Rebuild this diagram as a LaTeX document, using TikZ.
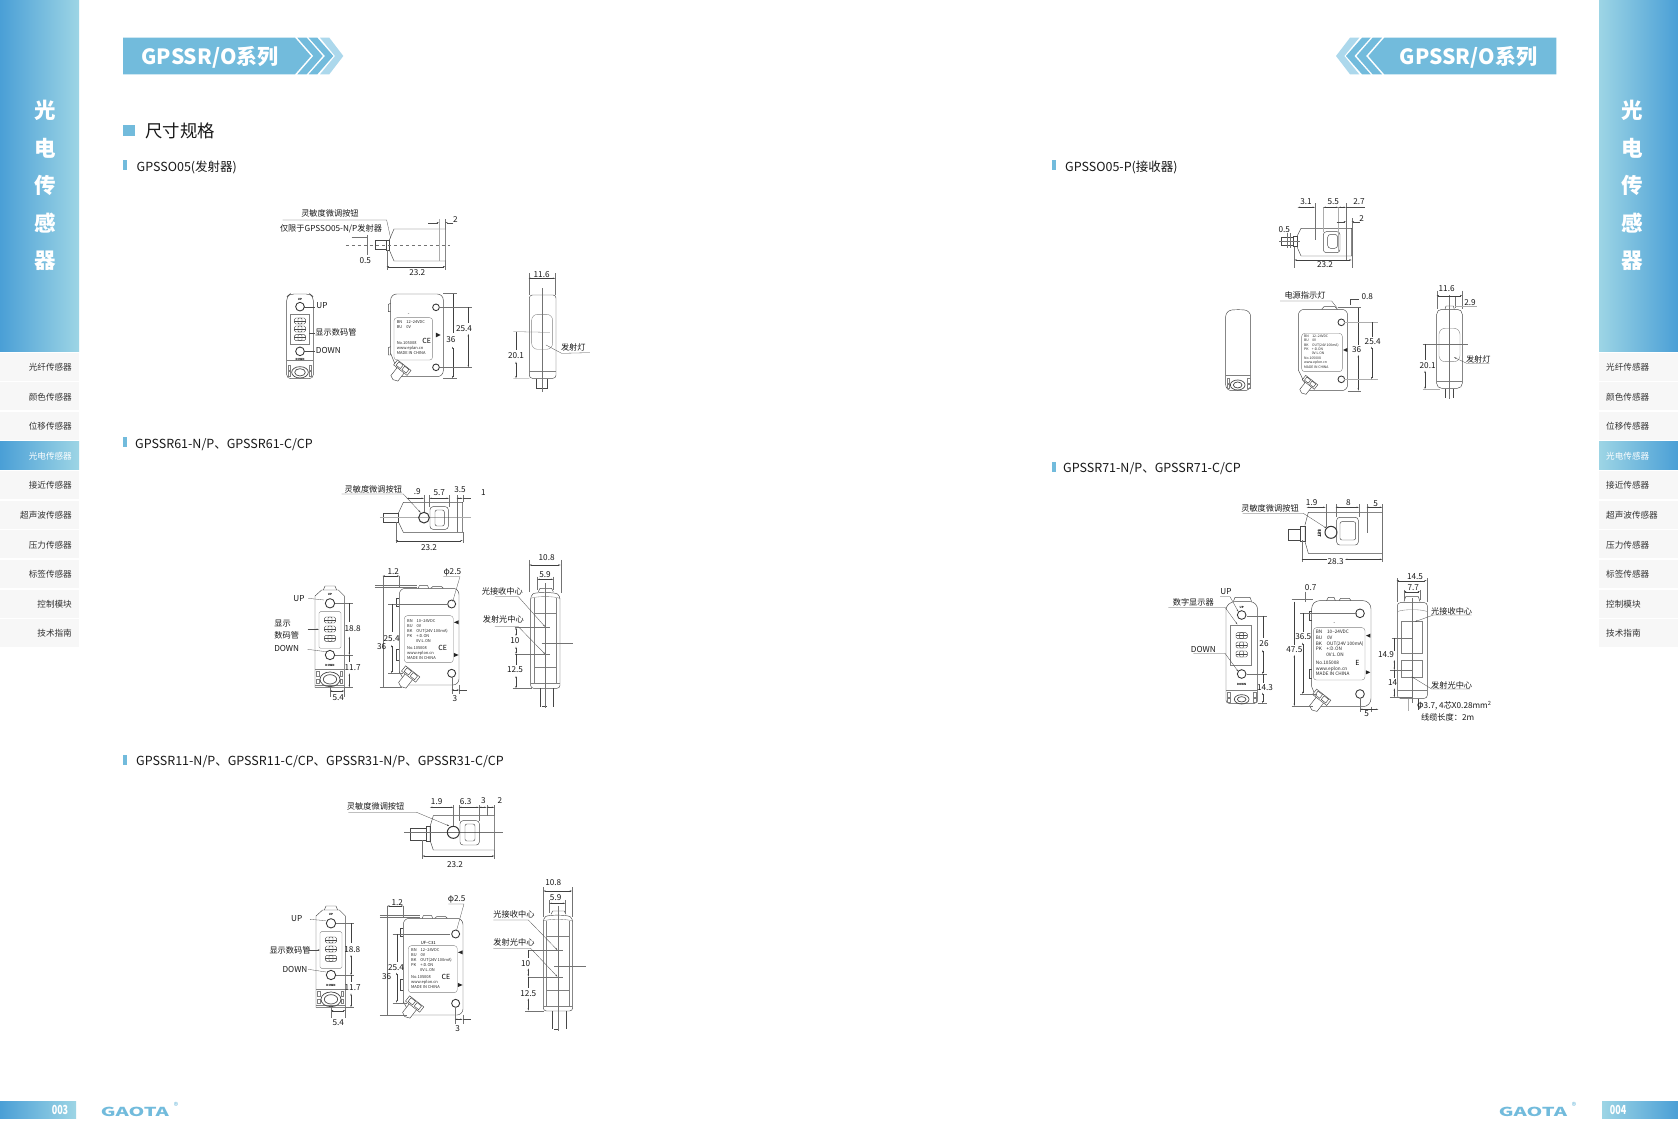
\documentclass[tikz,border=0pt]{standalone}
\usepackage{graphicx}
\usepackage{fontspec}
\setmainfont{Noto Sans CJK SC}
\usetikzlibrary{arrows.meta}
\definecolor{barDeep}{HTML}{4A9FD6}
\definecolor{barPale}{HTML}{9DD5E5}
\definecolor{headBlue}{HTML}{72BBDC}
\definecolor{headPale}{HTML}{ACD8EC}
\definecolor{navGrey}{HTML}{F7F7F7}
\definecolor{navInk}{HTML}{333333}
\tikzset{
  part/.style={draw=black!72,line width=0.45pt},
  thin part/.style={draw=black!50,line width=0.35pt},
  ext/.style={draw=black!55,line width=0.28pt},
  gext/.style={draw=black!32,line width=0.6pt},
  dim/.style={line width=0.28pt,draw=black!75,{Stealth[length=2.4pt,width=1.3pt]}-{Stealth[length=2.4pt,width=1.3pt]}},
  lead/.style={line width=0.3pt,draw=black!70},
  lab/.style={font=\fontsize{8.2}{9}\selectfont,inner sep=0pt,text=black!90},
  mini/.style={font=\fontsize{2.8}{3}\selectfont\bfseries,inner sep=0pt},
  platetext/.style={font=\fontsize{4}{5}\selectfont,inner sep=0pt,align=left,anchor=north west,text=black!85},
  bigplate/.style={font=\fontsize{4.7}{5.7}\selectfont},
  side/.style={font=\fontsize{21.5}{23}\selectfont\bfseries,text=white,inner sep=0pt},
  navtext/.style={font=\fontsize{8.6}{10}\selectfont,inner sep=0pt,text=navInk},
  subhead/.style={font=\fontsize{12.5}{14}\selectfont,anchor=west,inner sep=0pt,text=black!90},
  bannertext/.style={font=\fontsize{21}{23}\selectfont\bfseries,text=white,inner sep=0pt},
  tick/.style={fill=headBlue,draw=none},
  az/.style={shift={(260,190)},x=0.3333pt,y=-0.3333pt},
  bz/.style={shift={(260,470)},x=0.3333pt,y=-0.3333pt},
  cz/.style={shift={(260,780)},x=0.3333pt,y=-0.3333pt},
  dz/.style={shift={(1200,180)},x=0.3333pt,y=-0.3333pt},
  ez/.style={shift={(1150,490)},x=0.3333pt,y=-0.3333pt},
}
% one band of the banner arrow
\newcommand{\chevband}[5]{
  \fill[#5] (#1,37.7) -- (#2,37.7) -- (#4,56) -- (#2,74.3) -- (#1,74.3) -- (#3,56) -- cycle;
}
% one cell of the display
\newcommand{\digitcell}[2]{
  \draw[part,rounded corners=1.5pt] (#1-17,#2-9) rectangle (#1+17,#2+9);
  \draw[part,rounded corners=1pt] (#1-6,#2-9) rectangle (#1+6,#2+9);
  \draw[part] (#1-17,#2) -- (#1+17,#2);
}
% button
\newcommand{\screw}[3]{
  \draw[draw=black!80,line width=0.85pt] (#1,#2) circle (#3);
}
% plug at the corner of the housing
\newcommand{\angplug}[3]{
  \begin{scope}[shift={(#1,#2)},rotate=-38,scale=#3]
    \draw[part,fill=white] (-13,8) -- (-13,42) -- (0,48) -- (15,42) -- (15,8);
    \draw[part,fill=white] (-27,-10) rectangle (27,10);
    \draw[part] (-20,-8) rectangle (-3,6) (3,-8) rectangle (20,6);
  \end{scope}
}
% display side, housing of the two middle sensors
\newcommand{\dispbase}{
  \draw[part] (190,360) -- (195,348) -- (225,348) -- (230,360);
  \draw[part] (165,652) -- (165,378) -- (185,360) -- (235,360) -- (253,378) -- (253,652) -- cycle;
  \draw[thin part] (165,598) -- (253,598);
  \draw[thin part] (165,645) -- (253,645);
  \draw[thin part] (170,605) rectangle (178,620) (240,605) rectangle (248,620) (170,628) rectangle (178,640) (240,628) rectangle (248,640);
  \draw[part,line width=0.7pt] (210,628) ellipse (30 and 22);
  \draw[part,line width=0.7pt] (210,628) ellipse (20 and 14);
  \screw{210}{400}{14}
  \screw{210}{555}{14}
  \draw[thin part,rounded corners=1.5pt] (177,425) rectangle (243,535);
  \digitcell{210}{450}
  \digitcell{210}{477}
  \digitcell{210}{505}
  \node[mini] (dup) at (210,373) {UP};
  \node[mini] (ddown) at (210,585) {DOWN};
}
% front side, housing of the two middle sensors
\newcommand{\frontbase}{
  \draw[part] (475,355) -- (478,347) -- (503,347) -- (506,355);
  \draw[part] (512,355) -- (518,350) -- (545,350) -- (550,355);
  \draw[part] (418,410) -- (410,410) -- (410,385) -- (418,385);
  \draw[part] (418,570) -- (410,570) -- (410,537) -- (418,537);
  \draw[part,rounded corners=6pt] (440,645) -- (597,645) -- (597,355) -- (418,355) -- (418,610);
  \draw[part] (418,605) -- (440,645);
  \screw{575}{402}{12}
  \screw{575}{610}{12}
  \draw[thin part,rounded corners=3pt] (433,437) rectangle (580,578);
  \fill[black!85] (582,457) -- (596,451) -- (596,463) -- cycle;
  \fill[black!85] (596,555) -- (582,549) -- (582,561) -- cycle;
  \angplug{452}{612}{1}
}
% edge side, housing of the two middle sensors
\newcommand{\edgebase}{
  \draw[part] (835,365) -- (840,355) -- (875,355) -- (880,365);
  \draw[part,rounded corners=3pt] (812,655) -- (812,378) .. controls (825,366) and (885,366) .. (900,378) -- (900,655) -- cycle;
  \draw[thin part] (822,385) -- (822,640) (890,385) -- (890,640);
  \draw[thin part] (812,385) .. controls (830,378) and (880,378) .. (900,385);
  \draw[thin part] (822,430) rectangle (890,592);
  \draw[thin part] (812,640) -- (900,640);
  \draw[part] (840,655) -- (840,710) (880,655) -- (880,710) (845,710) -- (860,710);
  \draw[ext] (855,340) -- (855,715);
  \draw[ext] (845,520) -- (940,520);
  \draw[ext] (765,472) -- (870,472) (765,552) -- (870,552) (758,655) -- (815,655);
}
\begin{document}
\begin{tikzpicture}[x=1pt,y=-1pt]
\useasboundingbox (0,0) rectangle (1678,1146);
\fill[white] (0,0) rectangle (1678,1146);

% side bars
\shade[left color=barDeep,right color=barPale] (0,0) rectangle (79,351);
\shade[left color=barPale,right color=barDeep] (1599,0) rectangle (1678,351);
\foreach \ch [count=\i] in {光,电,传,感,器}{
  \pgfmathsetmacro{\ypos}{110.5+(\i-1)*37.5}
  \node[side] (sl\i) at (45,\ypos) {\ch};
  \node[side] (sr\i) at (1632.7,\ypos) {\ch};
}
\foreach \item [count=\i] in {光纤传感器,颜色传感器,位移传感器,光电传感器,接近传感器,超声波传感器,压力传感器,标签传感器,控制模块,技术指南}{
  \pgfmathsetmacro{\ytop}{352.7+(\i-1)*29.6}
  \pgfmathsetmacro{\ybot}{\ytop+28}
  \pgfmathsetmacro{\ymid}{\ytop+14.6}
  \ifnum\i=4
    \shade[left color=barDeep,right color=barPale] (0,\ytop) rectangle (79,\ybot);
    \shade[left color=barPale,right color=barDeep] (1599,\ytop) rectangle (1678,\ybot);
    \node[navtext,text=white,anchor=east] (nl\i) at (72,\ymid) {\item};
    \node[navtext,text=white,anchor=west] (nr\i) at (1606,\ymid) {\item};
  \else
    \fill[navGrey] (0,\ytop) rectangle (79,\ybot);
    \fill[navGrey] (1599,\ytop) rectangle (1678,\ybot);
    \node[navtext,anchor=east] (nl\i) at (72,\ymid) {\item};
    \node[navtext,anchor=west] (nr\i) at (1606,\ymid) {\item};
  \fi
}

% title banners
\fill[headBlue] (123,37.7) -- (295,37.7) -- (311,56) -- (295,74.3) -- (123,74.3) -- cycle;
\chevband{297.3}{306.7}{313.3}{322.7}{headBlue}
\chevband{308.7}{317.3}{325}{333.3}{headBlue}
\chevband{320}{329.3}{335}{343.3}{headPale}
\node[bannertext] (titleL) at (210,57.5) {GPSSR/O系列};
\fill[headBlue] (1556.3,37.7) -- (1384.3,37.7) -- (1368.3,56) -- (1384.3,74.3) -- (1556.3,74.3) -- cycle;
\chevband{1382}{1372.6}{1366}{1356.6}{headBlue}
\chevband{1370.6}{1362}{1354.3}{1346}{headBlue}
\chevband{1359.3}{1350}{1344.3}{1336}{headPale}
\node[bannertext] (titleR) at (1468.5,57.5) {GPSSR/O系列};

% headings
\fill[tick] (123,125.3) rectangle (135,135.7);
\node[font=\fontsize{17.4}{19}\selectfont,anchor=west,inner sep=0pt,text=black!90] (sizes) at (145,130.5) {尺寸规格};
\fill[tick] (123,160) rectangle (127,170);
\node[subhead] (h1) at (136.5,167) {GPSSO05(发射器)};
\fill[tick] (123,437.3) rectangle (127,447.3);
\node[subhead] (h2) at (135,444.5) {GPSSR61-N/P、GPSSR61-C/CP};
\fill[tick] (123,755) rectangle (127,765);
\node[subhead] (h3) at (136,762) {GPSSR11-N/P、GPSSR11-C/CP、GPSSR31-N/P、GPSSR31-C/CP};
\fill[tick] (1052,160) rectangle (1056,170);
\node[subhead] (h4) at (1065,167.5) {GPSSO05-P(接收器)};
\fill[tick] (1052,461.5) rectangle (1056,471.5);
\node[subhead] (h5) at (1063,468.5) {GPSSR71-N/P、GPSSR71-C/CP};

% footers
\shade[left color=barDeep,right color=barPale] (0,1101) rectangle (76,1118.5);
\shade[left color=barPale,right color=barDeep] (1602,1101) rectangle (1678,1118.5);
\node[font=\fontsize{12.5}{13}\selectfont\bfseries,text=white,inner sep=0pt] (pl) at (60,1110) {\scalebox{.72}[1]{003}};
\node[font=\fontsize{12.5}{13}\selectfont\bfseries,text=white,inner sep=0pt] (pr) at (1618,1110) {\scalebox{.72}[1]{004}};
\node[font=\fontsize{13}{14}\selectfont\bfseries,text=headBlue,inner sep=0pt] (logoL) at (135,1111.5) {\scalebox{1.55}[.95]{GAOTA}};
\node[font=\fontsize{9}{10}\selectfont,text=headBlue,inner sep=0pt] (regL) at (176,1105.5) {®};
\node[font=\fontsize{13}{14}\selectfont\bfseries,text=headBlue,inner sep=0pt] (logoR) at (1533,1111.5) {\scalebox{1.55}[.95]{GAOTA}};
\node[font=\fontsize{9}{10}\selectfont,text=headBlue,inner sep=0pt] (regR) at (1574,1105.5) {®};

% GPSSO05
\begin{scope}[az]
  \draw[part] (557,117) -- (402,117) -- (388,150) -- (388,180) -- (402,213) -- (557,213) -- cycle;
  \draw[part] (347,152) rectangle (380,178);
  \draw[part] (380,150) rectangle (388,180);
  \draw[gext] (537,88) -- (537,213);
  \draw[ext,dashed] (258,165) -- (570,165);
  \draw[ext] (380,180) -- (380,240) (556,213) -- (556,240) (556,88) -- (556,117);
  \draw[dim] (380,230) -- (556,230);
  \draw[lead,-{Stealth[length=2.4pt,width=1.3pt]}] (505,98) -- (537,98);
  \draw[lead,-{Stealth[length=2.4pt,width=1.3pt]}] (580,98) -- (556,98);
  \draw[ext] (320,135) -- (320,195) (275,140) -- (320,140);
  \draw[lead] (68,90) -- (380,90) -- (392,145);
  \node[lab] (a1) at (210,70) {灵敏度微调按钮};
  \node[lab] (a2) at (213,115) {仅限于GPSSO05-N/P发射器};
  \node[lab] (a3) at (472,247) {23.2};
  \node[lab] (a4) at (586,90) {2};
  \node[lab] (a5) at (316,213) {0.5};
  % display side
  \draw[part,rounded corners=4pt] (80,566) -- (80,320) -- (90,312) -- (150,312) -- (160,320) -- (160,566) -- cycle;
  \draw[thin part] (80,510) -- (160,510);
  \draw[thin part] (85,525) rectangle (92,540) (148,525) rectangle (155,540) (85,545) rectangle (92,560) (148,545) rectangle (155,560);
  \draw[part,line width=0.7pt] (120,547) ellipse (25 and 17);
  \draw[part,line width=0.7pt] (120,547) ellipse (16 and 11);
  \screw{120}{350}{13}
  \screw{120}{484}{13}
  \draw[thin part] (92,373) rectangle (148,462);
  \digitcell{120}{393}
  \digitcell{120}{417}
  \digitcell{120}{443}
  \draw[lead] (133,350) -- (165,350) (148,428) -- (165,428) (133,484) -- (165,484);
  \node[mini] (a6) at (120,328) {UP};
  \node[mini] (a7) at (120,507) {DOWN};
  \node[lab] (a8) at (186,347) {UP};
  \node[lab] (a9) at (228,427) {显示数码管};
  \node[lab] (a10) at (205,482) {DOWN};
  % front side
  \draw[part] (392,340) -- (385,343) -- (385,365) -- (392,365);
  \draw[part] (392,470) -- (385,473) -- (385,495) -- (392,495);
  \draw[part,rounded corners=6pt] (420,560) -- (550,560) -- (550,312) -- (392,312) -- (392,495);
  \draw[part] (392,490) -- (420,560);
  \screw{528}{352}{10}
  \screw{528}{532}{10}
  \draw[thin part,rounded corners=3pt] (402,383) rectangle (518,510);
  \node[mini] (a11) at (446,372) {--};
  \node[platetext] (a12) at (410,390) {BN\quad 12--24VDC\\BU\quad 0V};
  \node[platetext] (a13) at (410,454) {No.105008\\www.eplan.cn\\MADE IN CHINA};
  \node[font=\fontsize{7}{8}\selectfont,inner sep=0pt] (a14) at (500,452) {CE};
  \fill[black!85] (528,428) -- (542,435) -- (528,442) -- cycle;
  \angplug{427}{533}{0.95}
  \draw[ext] (550,310) -- (590,310) (550,565) -- (590,565);
  \draw[dim] (578,312) -- (578,430) (578,470) -- (578,565);
  \draw[ext] (540,352) -- (635,352) (540,532) -- (635,532);
  \draw[dim] (625,352) -- (625,400) (625,432) -- (625,532);
  \node[lab] (a15) at (573,448) {36};
  \node[lab] (a16) at (612,417) {25.4};
  % edge side
  \draw[part,rounded corners=3pt] (808,565) -- (808,315) -- (888,315) -- (888,565) -- cycle;
  \draw[thin part,rounded corners=6pt] (815,373) rectangle (878,478);
  \draw[thin part] (808,545) -- (888,545);
  \draw[part] (830,566) -- (830,595) -- (862,595) -- (862,566);
  \draw[ext] (847,295) -- (847,605);
  \draw[ext] (806,250) -- (806,315) (886,250) -- (886,315);
  \draw[dim] (806,265) -- (886,265);
  \draw[ext] (760,425) -- (870,427) (760,565) -- (808,565);
  \draw[dim] (768,425) -- (768,480) (768,515) -- (768,565);
  \draw[lead] (858,465) -- (905,490) -- (990,488);
  \node[lab] (a17) at (845,255) {11.6};
  \node[lab] (a18) at (768,497) {20.1};
  \node[lab] (a19) at (940,472) {发射灯};
\end{scope}

% GPSSR61
\begin{scope}[bz]
  \draw[part] (608,97) -- (430,97) -- (415,130) -- (415,155) -- (430,187) -- (608,187) -- cycle;
  \draw[part] (370,130) rectangle (415,157);
  \draw[gext] (360,143) -- (632,143);
  \draw[draw=black!80,line width=1pt] (492,143) circle (16);
  \draw[part,rounded corners=3pt] (510,110) rectangle (565,178);
  \draw[part,rounded corners=2pt] (525,120) rectangle (553,168);
  \draw[ext] (407,157) -- (407,218) (608,187) -- (608,218);
  \draw[dim] (407,212) -- (608,212);
  \draw[ext] (492,75) -- (492,125) (508,75) -- (508,110) (567,75) -- (567,110) (590,75) -- (590,187) (608,75) -- (608,97);
  \draw[dim] (440,85) -- (492,85);
  \draw[dim] (508,85) -- (567,85);
  \draw[dim] (590,85) -- (608,85);
  \draw[lead] (608,85) -- (632,85);
  \draw[lead,-{Stealth[length=2.6pt,width=1.5pt]}] (245,72) -- (430,72) -- (482,128);
  \node[lab] (b1) at (340,58) {灵敏度微调按钮};
  \node[lab] (b2) at (472,65) {.9};
  \node[lab] (b3) at (538,67) {5.7};
  \node[lab] (b4) at (600,60) {3.5};
  \node[lab] (b5) at (670,67) {1};
  \node[lab] (b6) at (507,234) {23.2};
  % display side
  \dispbase
  \draw[lead] (145,385) -- (192,390);
  \draw[lead,-{Stealth[length=2.4pt,width=1.3pt]}] (143,478) -- (177,478);
  \draw[lead] (143,538) -- (197,545);
  \draw[ext] (225,400) -- (278,400) (225,555) -- (278,555) (253,652) -- (278,652);
  \draw[dim] (268,400) -- (268,455) (268,500) -- (268,555);
  \draw[dim] (268,555) -- (268,575) (268,610) -- (268,652);
  \draw[ext] (210,652) -- (210,680) (253,652) -- (253,680);
  \draw[dim] (210,663) -- (253,663);
  \node[lab] (b7) at (117,385) {UP};
  \node[lab] (b8) at (68,460) {显示};
  \node[lab] (b9) at (80,497) {数码管};
  \node[lab] (b10) at (80,535) {DOWN};
  \node[lab] (b11) at (278,477) {18.8};
  \node[lab] (b12) at (278,592) {11.7};
  \node[lab] (b13) at (235,683) {5.4};
  % front side
  \frontbase
  \node[platetext] (b14) at (441,447) {BN\quad 10--24VDC\\BU\quad 0V\\BK\quad OUT(24V 100mA)\\PK\quad +:D.ON\\\quad\quad\ 0V:L.ON};
  \node[platetext] (b15) at (441,528) {No.105008\\www.eplon.cn\\MADE IN CHINA};
  \node[font=\fontsize{7}{8}\selectfont,inner sep=0pt] (b16) at (548,533) {CE};
  \draw[ext] (345,345) -- (470,345) (345,352) -- (470,352) (360,650) -- (425,650);
  \draw[ext] (368,318) -- (368,650);
  \draw[dim] (368,318) -- (418,318);
  \draw[ext] (418,318) -- (418,355);
  \draw[ext] (385,402) -- (560,402) (385,610) -- (430,610);
  \draw[dim] (395,402) -- (395,485) (395,525) -- (395,610);
  \draw[lead] (550,320) -- (600,320) -- (578,395);
  \draw[ext] (575,622) -- (575,672) (597,645) -- (597,672);
  \draw[dim] (575,660) -- (597,660);
  \draw[lead] (597,660) -- (620,660);
  \node[lab] (b18) at (400,305) {1.2};
  \node[lab] (b19) at (577,307) {φ2.5};
  \node[lab] (b20) at (365,530) {36};
  \node[lab] (b21) at (395,505) {25.4};
  \node[lab] (b22) at (585,685) {3};
  % edge side
  \edgebase
  \draw[ext] (808,270) -- (808,365) (902,270) -- (902,370);
  \draw[dim] (808,285) -- (902,285);
  \draw[ext] (832,320) -- (832,360) (880,320) -- (880,360);
  \draw[dim] (832,328) -- (880,328);
  \draw[lead,-{Stealth[length=2.4pt,width=1.3pt]}] (705,380) -- (775,380) -- (855,470);
  \draw[lead,-{Stealth[length=2.4pt,width=1.3pt]}] (705,470) -- (775,470) -- (855,552);
  \draw[dim] (768,472) -- (768,498);
  \draw[dim] (768,530) -- (768,552);
  \draw[dim] (768,552) -- (768,585) (768,618) -- (768,655);
  \node[lab] (b23) at (860,263) {10.8};
  \node[lab] (b24) at (855,313) {5.9};
  \node[lab] (b25) at (727,363) {光接收中心};
  \node[lab] (b26) at (730,448) {发射光中心};
  \node[lab] (b27) at (765,513) {10};
  \node[lab] (b28) at (765,600) {12.5};
\end{scope}

% GPSSR11 GPSSR31
\begin{scope}[cz]
  \draw[part] (703,107) -- (520,107) -- (510,140) -- (510,180) -- (520,210) -- (703,210) -- cycle;
  \draw[part] (450,145) rectangle (500,180);
  \draw[part] (500,140) rectangle (510,185);
  \draw[ext] (433,157) -- (730,157);
  \draw[draw=black!80,line width=1pt] (580,157) circle (18);
  \draw[part,rounded corners=3pt] (600,122) rectangle (658,195);
  \draw[part,rounded corners=2pt] (615,132) rectangle (645,183);
  \draw[ext] (487,180) -- (487,236) (703,210) -- (703,236);
  \draw[dim] (487,228) -- (703,228);
  \draw[ext] (580,75) -- (580,138) (597,75) -- (597,122) (657,75) -- (657,122) (680,75) -- (680,107) (703,75) -- (703,107);
  \draw[dim] (510,82) -- (580,82);
  \draw[dim] (597,82) -- (657,82);
  \draw[dim] (657,82) -- (680,82);
  \draw[dim] (680,82) -- (703,82);
  \draw[lead,-{Stealth[length=2.6pt,width=1.5pt]}] (265,97) -- (470,97) -- (568,138);
  \node[lab] (c1) at (347,78) {灵敏度微调按钮};
  \node[lab] (c2) at (530,65) {1.9};
  \node[lab] (c3) at (617,65) {6.3};
  \node[lab] (c4) at (670,62) {3};
  \node[lab] (c5) at (720,62) {2};
  \node[lab] (c6) at (585,255) {23.2};
  % display side
  \begin{scope}[shift={(3,30)}]
    \dispbase
  \end{scope}
  \draw[lead] (150,418) -- (197,422);
  \draw[lead,-{Stealth[length=2.4pt,width=1.3pt]}] (148,510) -- (180,510);
  \draw[lead] (145,568) -- (198,576);
  \draw[ext] (228,430) -- (283,430) (228,585) -- (283,585) (256,682) -- (283,682);
  \draw[dim] (273,430) -- (273,490) (273,525) -- (273,585);
  \draw[dim] (273,585) -- (273,605) (273,640) -- (273,682);
  \draw[ext] (213,682) -- (213,715) (256,682) -- (256,715);
  \draw[dim] (213,692) -- (256,692);
  \node[lab] (c7) at (110,415) {UP};
  \node[lab] (c8) at (90,510) {显示数码管};
  \node[lab] (c9) at (105,568) {DOWN};
  \node[lab] (c10) at (277,508) {18.8};
  \node[lab] (c11) at (278,623) {11.7};
  \node[lab] (c12) at (235,728) {5.4};
  % front side
  \begin{scope}[shift={(12,60)}]
    \frontbase
  \end{scope}
  \node[font=\fontsize{4.2}{5}\selectfont,inner sep=0pt] (c13) at (505,488) {UF--C31};
  \node[platetext] (c14) at (453,506) {BN\quad 12--24VDC\\BU\quad 0V\\BK\quad OUT(24V 100mA)\\PK\quad +:D.ON\\\quad\quad\ 0V:L.ON};
  \node[platetext] (c15) at (453,587) {No.105008\\www.eplon.cn\\MADE IN CHINA};
  \node[font=\fontsize{7}{8}\selectfont,inner sep=0pt] (c16) at (558,592) {CE};
  \draw[ext] (360,405) -- (480,405) (360,412) -- (480,412) (360,705) -- (440,705);
  \draw[ext] (382,378) -- (382,705);
  \draw[dim] (382,378) -- (430,378);
  \draw[ext] (430,378) -- (430,415);
  \draw[ext] (398,462) -- (570,462) (398,668) -- (440,668);
  \draw[dim] (410,462) -- (410,545) (410,578) -- (410,668);
  \draw[lead] (565,372) -- (612,372) -- (590,450);
  \draw[ext] (585,682) -- (585,732) (608,705) -- (608,732);
  \draw[dim] (585,718) -- (608,718);
  \draw[lead] (608,718) -- (632,718);
  \node[lab] (c17) at (412,367) {1.2};
  \node[lab] (c18) at (590,358) {φ2.5};
  \node[lab] (c19) at (380,590) {36};
  \node[lab] (c20) at (408,562) {25.4};
  \node[lab] (c21) at (593,745) {3};
  % edge side
  \begin{scope}[shift={(38,38)}]
    \edgebase
  \end{scope}
  \draw[ext] (850,322) -- (850,410) (936,322) -- (936,410);
  \draw[dim] (850,333) -- (936,333);
  \draw[ext] (868,360) -- (868,400) (916,360) -- (916,400);
  \draw[dim] (868,370) -- (916,370);
  \draw[lead,-{Stealth[length=2.4pt,width=1.3pt]}] (700,420) -- (805,420) -- (892,510);
  \draw[lead,-{Stealth[length=2.4pt,width=1.3pt]}] (700,505) -- (812,505) -- (892,590);
  \draw[dim] (805,510) -- (805,535) (805,565) -- (805,590);
  \draw[dim] (805,590) -- (805,625) (805,655) -- (805,692);
  \node[lab] (c22) at (880,308) {10.8};
  \node[lab] (c23) at (887,352) {5.9};
  \node[lab] (c24) at (762,403) {光接收中心};
  \node[lab] (c25) at (762,488) {发射光中心};
  \node[lab] (c26) at (797,550) {10};
  \node[lab] (c27) at (805,640) {12.5};
\end{scope}

% GPSSO05-P
\begin{scope}[dz]
  \draw[part] (455,145) -- (303,145) -- (293,165) -- (293,205) -- (303,228) -- (455,228) -- cycle;
  \draw[part] (245,172) rectangle (280,195);
  \draw[part] (280,170) rectangle (293,200);
  \draw[ext] (238,184) -- (300,184);
  \draw[part,rounded corners=3pt] (370,155) rectangle (420,218);
  \draw[part,rounded corners=3pt] (383,163) rectangle (413,205);
  \draw[ext] (283,200) -- (283,265) (455,115) -- (455,265);
  \draw[dim] (283,240) -- (455,240);
  \draw[ext] (345,70) -- (345,180) (438,70) -- (438,240);
  \draw[gext] (370,82) -- (370,155) (415,82) -- (415,215);
  \draw[dim] (293,82) -- (345,82);
  \draw[dim] (370,82) -- (415,82);
  \draw[dim] (415,82) -- (438,82);
  \draw[lead] (438,82) -- (495,82);
  \draw[lead,-{Stealth[length=2.4pt,width=1.3pt]}] (410,125) -- (438,125);
  \draw[lead,-{Stealth[length=2.4pt,width=1.3pt]}] (480,125) -- (455,125);
  \draw[ext] (262,160) -- (262,205) (270,160) -- (270,205);
  \node[lab] (d1) at (318,65) {3.1};
  \node[lab] (d2) at (400,65) {5.5};
  \node[lab] (d3) at (477,65) {2.7};
  \node[lab] (d4) at (485,115) {2};
  \node[lab] (d5) at (253,150) {0.5};
  \node[lab] (d6) at (375,255) {23.2};
  % rear block
  \draw[part,rounded corners=6pt] (77,632) -- (77,392) -- (115,388) -- (152,392) -- (152,632) -- cycle;
  \draw[thin part] (77,585) -- (152,585);
  \draw[thin part] (80,595) rectangle (88,610) (142,595) rectangle (150,610) (80,613) rectangle (88,626) (142,613) rectangle (150,626);
  \draw[part,line width=0.7pt] (113,615) ellipse (22 and 15);
  \draw[part,line width=0.7pt] (113,615) ellipse (13 and 9);
  % front side
  \draw[part] (365,388) -- (372,380) -- (405,380) -- (412,388);
  \draw[part,rounded corners=6pt] (325,632) -- (443,632) -- (443,388) -- (295,388) -- (295,570);
  \draw[part] (295,570) -- (325,632);
  \screw{424}{427}{10}
  \screw{424}{598}{10}
  \draw[thin part,rounded corners=3pt] (305,460) rectangle (427,575);
  \node[platetext,font=\fontsize{3.4}{4.2}\selectfont] (d7) at (312,465) {BN\quad 12--24VDC\\BU\quad 0V\\BK\quad OUT(24V 100mA)\\PK\quad +:D.ON\\\quad\quad\ 0V:L.ON};
  \node[platetext,font=\fontsize{3.4}{4.2}\selectfont] (d8) at (312,531) {No.105008\\www.eplon.cn\\MADE IN CHINA};
  \fill[black!85] (429,510) -- (442,504) -- (442,516) -- cycle;
  \angplug{330}{607}{0.85}
  \draw[lead] (240,363) -- (395,363) -- (412,385);
  \draw[lead] (450,375) -- (450,357) -- (478,357);
  \draw[ext] (415,380) -- (482,380) (443,632) -- (482,632);
  \draw[dim] (475,385) -- (475,495) (475,525) -- (475,632);
  \draw[gext] (432,427) -- (533,427) (432,598) -- (533,598);
  \draw[dim] (515,427) -- (515,470) (515,500) -- (515,598);
  \node[lab] (d9) at (315,345) {电源指示灯};
  \node[lab] (d10) at (502,350) {0.8};
  \node[lab] (d11) at (470,510) {36};
  \node[lab] (d12) at (518,485) {25.4};
  % edge side
  \draw[part] (735,388) -- (738,378) -- (760,378) -- (763,388);
  \draw[part,rounded corners=5pt] (710,625) -- (710,388) -- (787,388) -- (787,625) -- cycle;
  \draw[thin part,rounded corners=6pt] (717,445) rectangle (780,545);
  \draw[thin part] (710,605) -- (787,605);
  \draw[part] (735,626) -- (735,655) (760,626) -- (760,655);
  \draw[ext] (747,345) -- (747,658);
  \draw[ext] (710,332) -- (710,388) (787,332) -- (787,388);
  \draw[dim] (710,347) -- (787,347);
  \draw[ext] (765,350) -- (765,385);
  \draw[gext] (765,378) -- (832,378);
  \draw[ext] (668,492) -- (805,492);
  \draw[gext] (668,627) -- (720,627);
  \draw[dim] (675,492) -- (675,540) (675,572) -- (675,627);
  \draw[lead,{Stealth[length=2.4pt,width=1.3pt]}-] (762,532) -- (800,550) -- (868,550);
  \node[lab] (d13) at (740,327) {11.6};
  \node[lab] (d14) at (810,367) {2.9};
  \node[lab] (d15) at (683,557) {20.1};
  \node[lab] (d16) at (835,538) {发射灯};
\end{scope}

% GPSSR71
\begin{scope}[ez]
  \draw[part] (697,67) -- (475,67) -- (465,105) -- (465,155) -- (475,190) -- (697,190) -- cycle;
  \draw[part] (415,118) rectangle (450,150);
  \draw[part] (450,110) rectangle (465,155);
  \draw[draw=black!80,line width=1pt] (543,127) circle (18);
  \draw[part,rounded corners=3pt] (560,82) rectangle (625,165);
  \draw[part,rounded corners=2pt] (570,95) rectangle (617,150);
  \draw[ext] (455,150) -- (455,215) (697,42) -- (697,215);
  \draw[dim] (455,208) -- (530,208) (585,208) -- (697,208);
  \draw[ext] (527,42) -- (527,110) (557,42) -- (557,82) (627,42) -- (627,82) (650,42) -- (650,130);
  \draw[dim] (470,52) -- (527,52);
  \draw[dim] (557,52) -- (627,52);
  \draw[dim] (650,52) -- (697,52);
  \draw[lead,-{Stealth[length=2.6pt,width=1.5pt]}] (278,70) -- (460,70) -- (530,115);
  \node[font=\fontsize{4.2}{5}\selectfont\bfseries,inner sep=0pt,rotate=-90] (e1) at (508,130) {SET};
  \node[lab] (e2) at (360,55) {灵敏度微调按钮};
  \node[lab] (e3) at (485,37) {1.9};
  \node[lab] (e4) at (595,37) {8};
  \node[lab] (e5) at (677,40) {5};
  \node[lab] (e6) at (557,215) {28.3};
  % display side
  \draw[part] (250,335) -- (255,322) -- (300,322) -- (305,335);
  \draw[part,rounded corners=3pt] (228,640) -- (228,350) -- (245,335) -- (310,335) -- (323,350) -- (323,640) -- cycle;
  \draw[thin part] (228,600) -- (323,600);
  \draw[thin part] (232,607) rectangle (240,622) (311,607) rectangle (319,622) (232,625) rectangle (240,637) (311,625) rectangle (319,637);
  \draw[part,line width=0.7pt] (275,628) ellipse (22 and 14);
  \draw[part,line width=0.7pt] (275,628) ellipse (13 and 8);
  \screw{275}{375}{13}
  \screw{275}{552}{13}
  \draw[thin part] (240,405) rectangle (305,525);
  \digitcell{275}{437}
  \digitcell{275}{465}
  \digitcell{275}{492}
  \draw[lead,-{Stealth[length=2.4pt,width=1.3pt]}] (210,320) -- (240,320) -- (265,365);
  \draw[lead,-{Stealth[length=2.4pt,width=1.3pt]}] (55,352) -- (225,352) -- (262,403);
  \draw[lead,-{Stealth[length=2.4pt,width=1.3pt]}] (130,490) -- (225,490) -- (265,545);
  \draw[ext] (290,378) -- (350,378) (290,552) -- (350,552) (323,640) -- (350,640);
  \draw[dim] (338,378) -- (338,445) (338,480) -- (338,552);
  \draw[dim] (338,552) -- (338,578) (338,608) -- (338,640);
  \node[mini] (e7) at (275,352) {UP};
  \node[mini] (e8) at (275,582) {DOWN};
  \node[lab] (e9) at (228,305) {UP};
  \node[lab] (e10) at (130,338) {数字显示器};
  \node[lab] (e11) at (160,480) {DOWN};
  \node[lab] (e12) at (342,462) {26};
  \node[lab] (e13) at (345,592) {14.3};
  % front side
  \draw[part] (530,332) -- (535,322) -- (552,322) -- (556,332);
  \draw[part] (567,332) -- (572,325) -- (598,325) -- (603,332);
  \draw[part] (485,392) -- (477,392) -- (477,365) -- (485,365);
  \draw[part] (485,565) -- (477,565) -- (477,537) -- (485,537);
  \draw[part,rounded corners=8pt] (510,650) -- (663,650) -- (663,332) -- (485,332) -- (485,590);
  \draw[part] (485,590) -- (510,650);
  \screw{630}{370}{13}
  \screw{630}{612}{13}
  \draw[thin part,rounded corners=3pt] (490,413) rectangle (645,570);
  \node[mini] (e14) at (553,400) {--};
  \node[platetext,bigplate] (e15) at (497,420) {BN\quad 10--24VDC\\BU\quad 0V\\BK\quad OUT(24V 100mA)\\PK\quad +:D.ON\\\quad\quad\ 0V:L.ON};
  \node[platetext,bigplate] (e16) at (497,512) {No.105008\\www.eplon.cn\\MADE IN CHINA};
  \node[font=\fontsize{7}{8}\selectfont,inner sep=0pt] (e17) at (622,520) {E};
  \fill[black!85] (648,437) -- (661,431) -- (661,443) -- cycle;
  \fill[black!85] (661,547) -- (648,541) -- (648,553) -- cycle;
  \angplug{515}{622}{1}
  \draw[ext] (425,328) -- (490,328) (450,370) -- (620,370) (450,612) -- (500,612) (425,648) -- (490,648);
  \draw[ext] (465,305) -- (465,335);
  \draw[dim] (458,370) -- (458,425) (458,458) -- (458,612);
  \draw[dim] (433,335) -- (433,465) (433,495) -- (433,648);
  \draw[ext] (630,628) -- (630,665) (663,650) -- (663,665);
  \draw[dim] (630,658) -- (685,658);
  \node[lab] (e18) at (482,292) {0.7};
  \node[lab] (e19) at (460,440) {36.5};
  \node[lab] (e20) at (433,480) {47.5};
  \node[lab] (e21) at (650,670) {5};
  % edge side
  \draw[part] (762,335) -- (767,320) -- (805,320) -- (810,335);
  \draw[part,rounded corners=3pt] (742,625) -- (742,338) -- (832,338) -- (832,625) -- cycle;
  \draw[thin part] (742,365) .. controls (760,357) and (815,357) .. (832,365);
  \draw[thin part] (755,395) rectangle (817,490) (755,512) rectangle (817,562);
  \draw[thin part] (742,600) -- (832,600);
  \draw[gext] (775,626) -- (775,662);
  \draw[part] (805,626) -- (805,660);
  \draw[ext] (785,325) -- (785,640);
  \draw[ext] (740,265) -- (740,335) (830,265) -- (830,335);
  \draw[dim] (740,272) -- (830,272);
  \draw[ext] (762,300) -- (762,330) (810,300) -- (810,330);
  \draw[dim] (762,305) -- (810,305);
  \draw[ext] (725,445) -- (785,445) (720,540) -- (790,540) (720,622) -- (790,622);
  \draw[dim] (733,445) -- (733,482) (733,510) -- (733,540);
  \draw[dim] (733,540) -- (733,565) (733,595) -- (733,622);
  \draw[lead,{Stealth[length=2.4pt,width=1.3pt]}-] (795,395) -- (850,375) -- (965,375);
  \draw[lead,{Stealth[length=2.4pt,width=1.3pt]}-] (785,560) -- (845,597) -- (960,597);
  \draw[lead,{Stealth[length=2.4pt,width=1.3pt]}-] (805,660) -- (815,640);
  \node[lab] (e22) at (795,260) {14.5};
  \node[lab] (e23) at (790,293) {7.7};
  \node[lab] (e24) at (905,363) {光接收中心};
  \node[lab] (e25) at (905,585) {发射光中心};
  \node[lab] (e26) at (708,495) {14.9};
  \node[lab] (e27) at (728,578) {14};
  \node[lab] (e28) at (913,648) {Φ3.7, 4芯X0.28mm\textsuperscript{2}};
  \node[lab] (e29) at (893,683) {线缆长度：2m};
\end{scope}
\end{tikzpicture}
\end{document}
